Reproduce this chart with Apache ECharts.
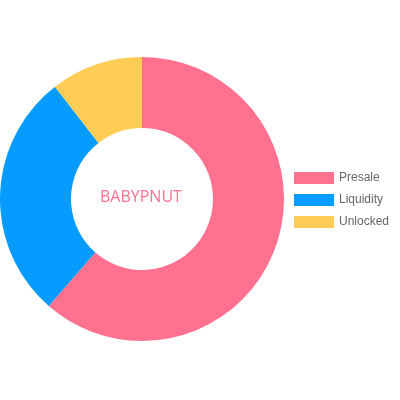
<!DOCTYPE html>
<html>
<head>
<meta charset="utf-8">
<script src="https://cdn.jsdelivr.net/npm/echarts@6/dist/echarts.min.js"></script>
<style>
    html, body { margin: 0; padding: 0; background: #fff; }
    #chart { width: 400px; height: 400px; }
</style>
</head>
<body>
<div id="chart"></div>
<script>
var names = ['Presale', 'Liquidity', 'Unlocked'];
var values = [61.4, 28.1, 10.5];
var colors = ['#ff718f', '#059bff', '#ffcd56'];
var centerLabel = 'BABYPNUT';

var pieChart = function() {
    var box = document.getElementById('chart');
    var myChart = echarts.init(box);

    var data = [];
    names.forEach(function(name, i) {
        data.push({ name: name, value: values[i] });
    });

    var option = {
        animation: false,
        color: colors,
        // 中间文字
        graphic: [{
            type: 'text',
            left: 142 - 42,
            top: 199 - 10,
            style: {
                text: centerLabel,
                fill: '#ff718f',
                font: '16px "Open Sans"'
            }
        }],
        legend: {
            orient: 'vertical',
            left: 294,
            top: 172,
            padding: 0,
            itemWidth: 40,
            itemHeight: 12,
            itemGap: 10,
            icon: 'rect',
            textStyle: {
                color: '#666',
                fontSize: 12,
                fontFamily: 'Liberation Sans'
            },
            data: names
        },
        series: [{
            name: 'Tokenomics',
            type: 'pie',
            center: [142, 199],
            radius: [71, 142],
            startAngle: 90,
            label: { show: false },
            labelLine: { show: false },
            data: data
        }]
    };
    myChart.setOption(option);
};

pieChart();
</script>
</body>
</html>
